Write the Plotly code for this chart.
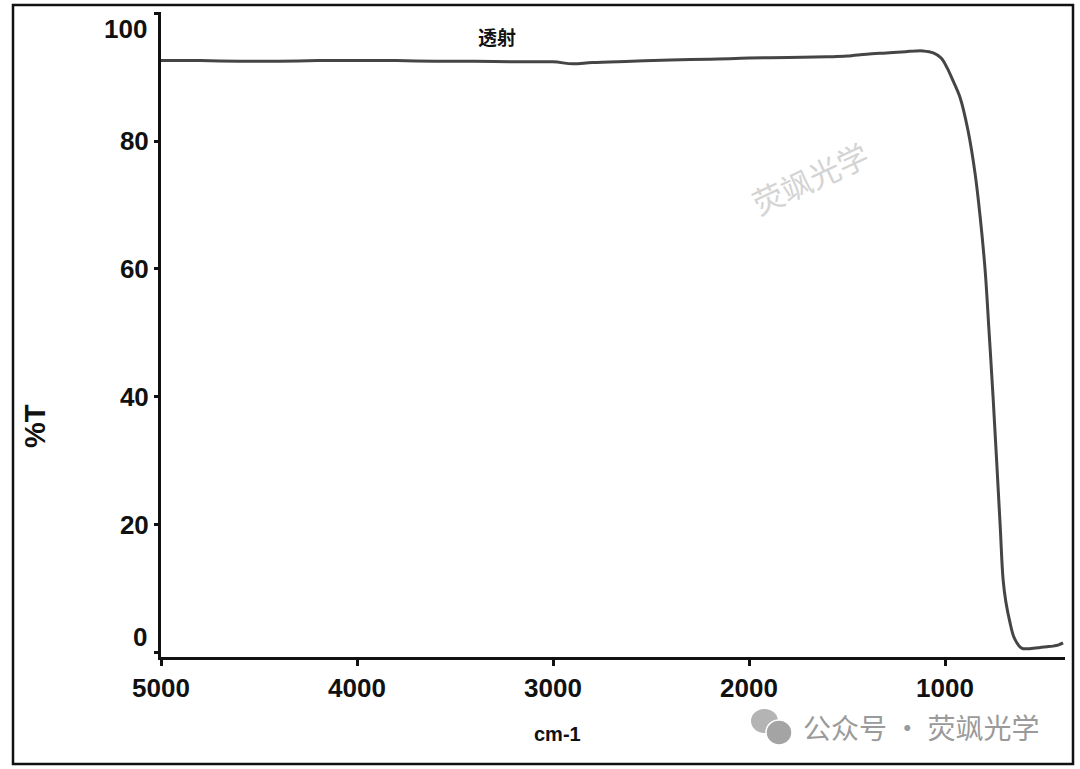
import plotly.graph_objects as go

# data (wavenumber cm-1, %T)
wavenumber = [5000, 4800, 4600, 4400, 4200, 4000, 3800, 3600, 3400, 3200, 3000, 2900, 2800, 2600,
              2400, 2200, 2000, 1800, 1600, 1500, 1400, 1300, 1200, 1150, 1112, 1060, 1020, 990,
              960, 923, 883, 847, 821, 796, 775, 755, 719, 704, 690, 668, 650, 633, 615, 602,
              570, 540, 515, 480, 450, 420, 398]
transmission = [92.6, 92.6, 92.5, 92.5, 92.6, 92.6, 92.6, 92.5, 92.5, 92.4, 92.4, 92.1, 92.3, 92.5,
                92.7, 92.8, 93.0, 93.1, 93.2, 93.3, 93.6, 93.8, 94.0, 94.1, 94.1, 93.8, 93.0, 91.5,
                89.5, 86.8, 81.7, 75.0, 68.2, 60.0, 50.0, 40.0, 20.0, 11.5, 8.0, 4.6, 2.5, 1.5, 0.8, 0.6,
                0.6, 0.7, 0.8, 0.9, 1.0, 1.2, 1.5]
x_ticks = [5000, 4000, 3000, 2000, 1000]
y_ticks = [0, 20, 40, 60, 80, 100]
title_text = "透射"
x_title = "cm-1"
y_title = "%T"
watermark = "荧飒光学"
footer = "公众号 · 荧飒光学"

W, H = 1080, 769
L, R, T, B = 161, 1065, 12, 657  # plot area in px


def px(x):
    return (x - L) / (R - L)


def py(y):
    return (B - y) / (B - T)


fig = go.Figure()
fig.add_trace(go.Scatter(x=wavenumber, y=transmission, mode="lines",
                         line=dict(color="#454545", width=3), showlegend=False,
                         line_shape="spline"))

tick_font = dict(family="Liberation Sans, Arial", size=26, color="#111", weight="bold")
# end labels (0 and 100) are drawn as annotations with a small offset, as in the original
y_ticktext = ["" if v in (y_ticks[0], y_ticks[-1]) else str(v) for v in y_ticks]
fig.update_layout(
    width=W, height=H,
    margin=dict(l=L, r=W - R, t=T, b=H - B),
    paper_bgcolor="white", plot_bgcolor="white",
    xaxis=dict(range=[5000, 388], tickvals=x_ticks, ticktext=[str(v) for v in x_ticks],
               showgrid=False, zeroline=False, showline=True, linecolor="#111", linewidth=3,
               ticks="outside", ticklen=6, tickwidth=3, tickcolor="#111", automargin=False,
               ticklabelstandoff=0, tickfont=tick_font),
    yaxis=dict(range=[-0.7, 100.2], tickvals=y_ticks, ticktext=y_ticktext,
               showgrid=False, zeroline=False, showline=True, linecolor="#111", linewidth=3,
               ticks="outside", ticklen=4, tickwidth=3, tickcolor="#111", automargin=False,
               ticklabelstandoff=0, tickfont=tick_font),
)

fig.add_annotation(text=str(y_ticks[-1]), xref="paper", yref="y", x=0, y=y_ticks[-1],
                   xanchor="right", yanchor="middle", xshift=-12, yshift=-16, showarrow=False,
                   font=tick_font)
fig.add_annotation(text=str(y_ticks[0]), xref="paper", yref="y", x=0, y=y_ticks[0],
                   xanchor="right", yanchor="middle", xshift=-12, yshift=16, showarrow=False,
                   font=tick_font)

# outer frame
fig.add_shape(type="rect", xref="paper", yref="paper",
              x0=px(13), x1=px(1073), y0=py(764), y1=py(5),
              line=dict(color="#111", width=2.5), fillcolor="rgba(0,0,0,0)", layer="below")

# titles
fig.add_annotation(text=title_text, xref="paper", yref="paper", x=px(497), y=py(37),
                   xanchor="center", yanchor="middle", showarrow=False,
                   font=dict(family="Noto Sans CJK SC", size=19, color="#111", weight="bold"))
fig.add_annotation(text=x_title, xref="paper", yref="paper", x=px(557), y=py(734),
                   xanchor="center", yanchor="middle", showarrow=False,
                   font=dict(family="Liberation Sans, Arial", size=20, color="#111", weight="bold"))
fig.add_annotation(text=y_title, xref="paper", yref="paper", x=px(35), y=py(426), textangle=-90,
                   xanchor="center", yanchor="middle", showarrow=False,
                   font=dict(family="Liberation Sans, Arial", size=29, color="#111", weight="bold"))

# watermarks
fig.add_annotation(text=watermark, xref="paper", yref="paper", x=px(810), y=py(178), textangle=-25,
                   xanchor="center", yanchor="middle", showarrow=False,
                   font=dict(family="Noto Sans CJK SC", size=31, color="#d4d4d4"))
fig.add_annotation(text=footer, xref="paper", yref="paper", x=px(801), y=py(727),
                   xanchor="left", yanchor="middle", showarrow=False,
                   font=dict(family="Noto Sans CJK SC", size=28, color="#9a9a9a"))
# wechat icon bubbles
fig.add_shape(type="circle", xref="paper", yref="paper", x0=px(751), x1=px(778), y0=py(733), y1=py(709),
              line=dict(width=0), fillcolor="#b4b4b4")
fig.add_shape(type="circle", xref="paper", yref="paper", x0=px(766), x1=px(792), y0=py(745), y1=py(720),
              line=dict(color="white", width=1.5), fillcolor="#a4a4a4")

fig.write_html("out.html", config={"displayModeBar": False},
               post_script="document.body.style.margin='0';")
